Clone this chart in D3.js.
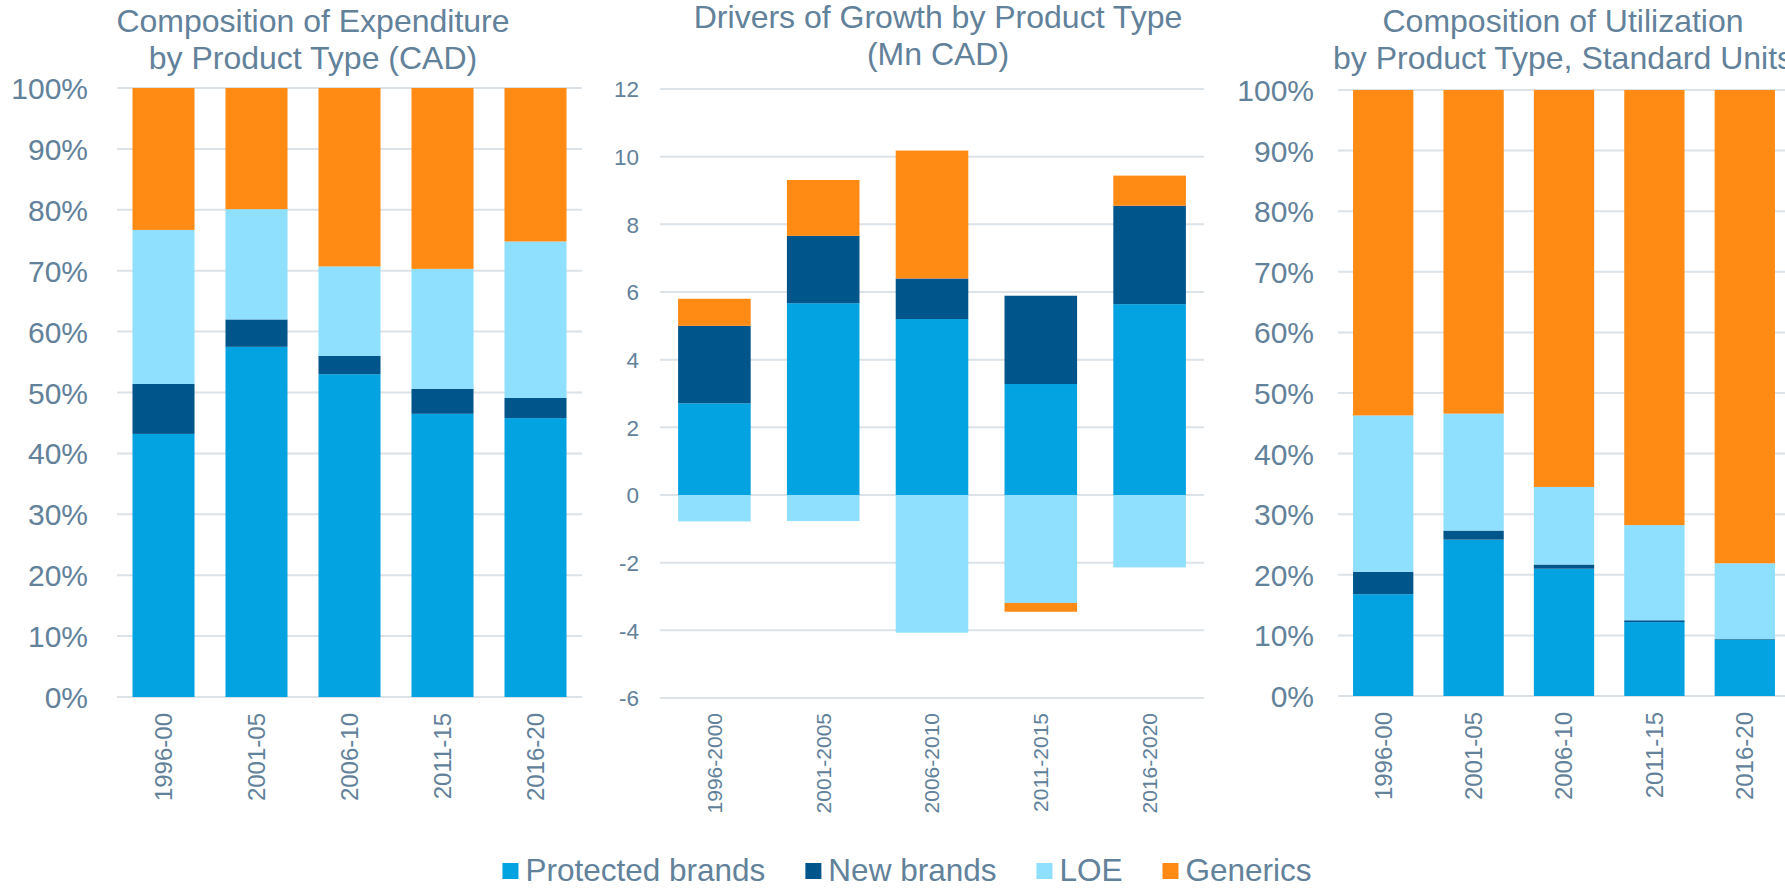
<!DOCTYPE html>
<html><head><meta charset="utf-8">
<script src="https://cdn.jsdelivr.net/npm/d3@7"></script>
<style>
html,body{margin:0;padding:0;background:#fff;overflow:hidden;}
svg{display:block;font-family:"Liberation Sans",Arial,sans-serif;}
</style></head>
<body>
<svg id="c" width="1785" height="888"></svg>
<script>
const seriesNames = ["Protected brands","New brands","LOE","Generics"];
const colors = ["#03a2e0","#00558a","#8fdfff","#ff8a14"];

const catShort = ["1996-00","2001-05","2006-10","2011-15","2016-20"];
const catLong = ["1996-2000","2001-2005","2006-2010","2011-2015","2016-2020"];

// Chart 1: composition of expenditure (%)
const expProtected = [43.2, 57.5, 53.0, 46.5, 45.8];
const expNew       = [8.2, 4.5, 3.0, 4.1, 3.3];
const expLOE       = [25.3, 18.1, 14.7, 19.7, 25.7];
const expGenerics  = [23.3, 19.9, 29.3, 29.7, 25.2];

// Chart 2: drivers of growth (Mn CAD)
const grProtected = [2.71, 5.67, 5.20, 3.28, 5.64];
const grNew       = [2.29, 1.99, 1.20, 2.61, 2.91];
const grLOE       = [-0.78, -0.77, -4.07, -3.19, -2.14];
const grGenerics  = [0.80, 1.65, 3.78, -0.26, 0.89];

// Chart 3: composition of utilization (%)
const utProtected = [16.8, 25.8, 21.0, 12.2, 9.3];
const utNew       = [3.7, 1.5, 0.7, 0.3, 0.1];
const utLOE       = [25.8, 19.3, 12.8, 15.7, 12.5];
const utGenerics  = [53.7, 53.4, 65.5, 71.8, 78.1];

const pctTicks = [0,10,20,30,40,50,60,70,80,90,100];
const growthTicks = [-6,-4,-2,0,2,4,6,8,10,12];

const TEXT = "#62819a";
const GRID = "#dbe2e8";
const svg = d3.select("#c");

function drawChart(o){
  const rows = o.cats.map((c,i)=>{
    const r = {cat:c};
    seriesNames.forEach((s,j)=> r[s] = o.series[j][i]);
    return r;
  });
  const stack = d3.stack().keys(seriesNames).offset(d3.stackOffsetDiverging)(rows);
  const x = d3.scaleBand().domain(o.cats).range([o.x0,o.x1]).paddingInner(0.333).paddingOuter(0.1665);
  const y = d3.scaleLinear().domain(o.domain).range([o.yBottom,o.yTop]);
  const g = svg.append("g");
  // gridlines
  g.append("g").selectAll("line").data(o.ticks).join("line")
    .attr("x1",o.x0).attr("x2",o.x1)
    .attr("y1",d=>y(d)).attr("y2",d=>y(d))
    .attr("stroke",GRID).attr("stroke-width",2);
  // y axis labels
  const yAxis = d3.axisLeft(y).tickValues(o.ticks).tickFormat(o.fmt).tickSize(0).tickPadding(0);
  const ya = g.append("g").attr("transform",`translate(${o.labelX},0)`).call(yAxis);
  ya.select(".domain").remove();
  ya.selectAll("text").attr("fill",TEXT).style("font-size",o.yFont+"px").attr("dy","0.35em")
    .style("font-family","'Liberation Sans',Arial,sans-serif");
  // bars
  g.append("g").selectAll("g").data(stack).join("g")
    .attr("fill",(d,i)=>colors[i])
    .selectAll("rect").data(d=>d).join("rect")
    .attr("x",d=>x(d.data.cat)).attr("width",x.bandwidth())
    .attr("y",d=>y(Math.max(d[0],d[1])))
    .attr("height",d=>Math.abs(y(d[0])-y(d[1])));
  // x axis labels
  const xAxis = d3.axisBottom(x).tickSize(0).tickPadding(0);
  const xa = g.append("g").attr("transform",`translate(0,${o.xLabelY})`).call(xAxis);
  xa.select(".domain").remove();
  xa.selectAll("text").attr("fill",TEXT).style("font-size",o.xFont+"px")
    .style("font-family","'Liberation Sans',Arial,sans-serif")
    .attr("transform","rotate(-90)").attr("text-anchor","end")
    .attr("x",0).attr("y",0).attr("dy","0.35em");
  // title
  const t = g.append("text").attr("fill",TEXT).attr("text-anchor","middle")
    .style("font-size",o.titleFont+"px");
  o.title.forEach((line,i)=>{
    t.append("tspan").attr("x",o.titleX).attr("y",o.titleY + i*o.titleLH).text(line);
  });
}

drawChart({cats:catShort, series:[expProtected,expNew,expLOE,expGenerics],
  x0:117, x1:582, yTop:88, yBottom:697, domain:[0,100], ticks:pctTicks, fmt:d=>d+"%",
  labelX:88, yFont:30, xFont:24, xLabelY:713,
  title:["Composition of Expenditure","by Product Type (CAD)"], titleX:313, titleY:32, titleLH:37, titleFont:32});

drawChart({cats:catLong, series:[grProtected,grNew,grLOE,grGenerics],
  x0:660, x1:1204, yTop:89, yBottom:698, domain:[-6,12], ticks:growthTicks, fmt:d=>d,
  labelX:639, yFont:22.5, xFont:21, xLabelY:713,
  title:["Drivers of Growth by Product Type","(Mn CAD)"], titleX:938, titleY:28, titleLH:37, titleFont:32});

drawChart({cats:catShort, series:[utProtected,utNew,utLOE,utGenerics],
  x0:1338, x1:1790, yTop:90, yBottom:696, domain:[0,100], ticks:pctTicks, fmt:d=>d+"%",
  labelX:1314, yFont:30, xFont:24, xLabelY:712,
  title:["Composition of Utilization","by Product Type, Standard Units"], titleX:1563, titleY:32, titleLH:37, titleFont:32});

// legend
const lg = svg.append("g");
const items = lg.selectAll("g").data(seriesNames).join("g");
items.append("rect").attr("width",16).attr("height",16).attr("y",863).attr("fill",(d,i)=>colors[i]);
items.append("text").attr("x",23).attr("y",881).attr("fill",TEXT).style("font-size","31.5px").text(d=>d);
let cx = 0; const pos=[];
items.each(function(){ pos.push(cx); const w=d3.select(this).select("text").node().getComputedTextLength(); cx += 23 + w + 40; });
const total = cx - 40;
const startX = 907 - total/2;
items.attr("transform",(d,i)=>`translate(${startX+pos[i]},0)`);
</script>
</body></html>
